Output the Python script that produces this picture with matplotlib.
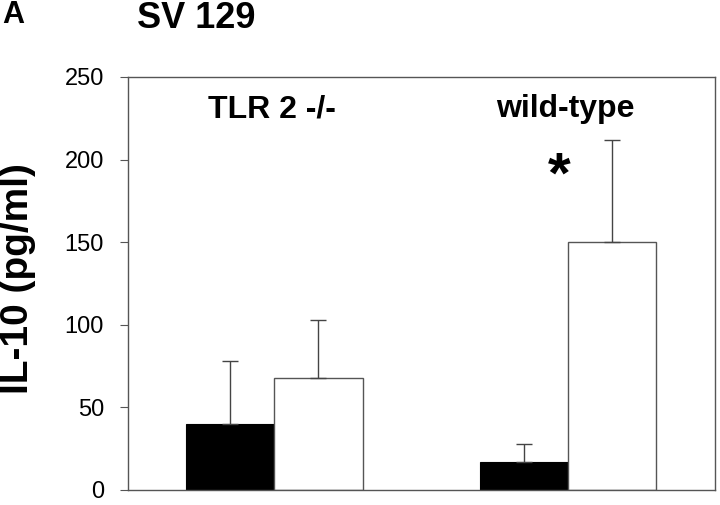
import matplotlib
matplotlib.use("Agg")
import matplotlib.pyplot as plt
import numpy as np

plt.rcParams['font.family'] = ['Liberation Sans', 'DejaVu Sans']

groups = ["TLR 2 -/-", "wild-type"]
black_vals = [40, 17]
black_err = [38, 11]
white_vals = [68, 150]
white_err = [35, 62]
yticks = [0, 50, 100, 150, 200, 250]

fig = plt.figure(figsize=(7.2, 5.05), dpi=100)
W, H = 720, 505
left, right, top, bottom = 127.5, 715, 77, 490
ax = fig.add_axes([left / W, 1 - bottom / H, (right - left) / W, (bottom - top) / H])

x = np.arange(len(groups))
bw = 0.3
ecol = '#444444'
ax.bar(x - bw / 2, black_vals, width=bw, color='black', edgecolor='black', linewidth=0.8,
       yerr=[np.zeros(len(x)), black_err], error_kw=dict(ecolor=ecol, elinewidth=1.0, capsize=6, capthick=1.0))
ax.bar(x + bw / 2, white_vals, width=bw, color='white', edgecolor='#555555', linewidth=1.0,
       yerr=[np.zeros(len(x)), white_err], error_kw=dict(ecolor=ecol, elinewidth=1.0, capsize=6, capthick=1.0))

ax.set_xlim(-0.5, 1.5)
ax.set_ylim(0, 250)
ax.set_yticks(yticks)
ax.set_yticklabels([str(v) for v in yticks], fontsize=17)
ax.set_xticks([])
ax.tick_params(axis='y', direction='out', length=6, width=0.8, color='#555555', pad=11)
for s in ax.spines.values():
    s.set_color('#555555')
    s.set_linewidth(1.0)

fig.text(18 / W, 1 - 279 / H, "IL-10 (pg/ml)", rotation=90, ha='center', va='center',
         fontsize=28, fontweight='bold')

for xi, g in zip(x, groups):
    ax.text(xi - 0.01, 230.5, g, ha='center', va='center', fontsize=23, fontweight='bold')

ax.text(1 - 0.03, 189, "*", ha='center', va='center', fontsize=42, fontweight='bold')

fig.text(2 / W, 1 - 15 / H, "A", ha='left', va='center', fontsize=22, fontweight='bold')
fig.text(196 / W, 1 - 18 / H, "SV 129", ha='center', va='center', fontsize=26, fontweight='bold')

fig.savefig("out.png", dpi=100)
